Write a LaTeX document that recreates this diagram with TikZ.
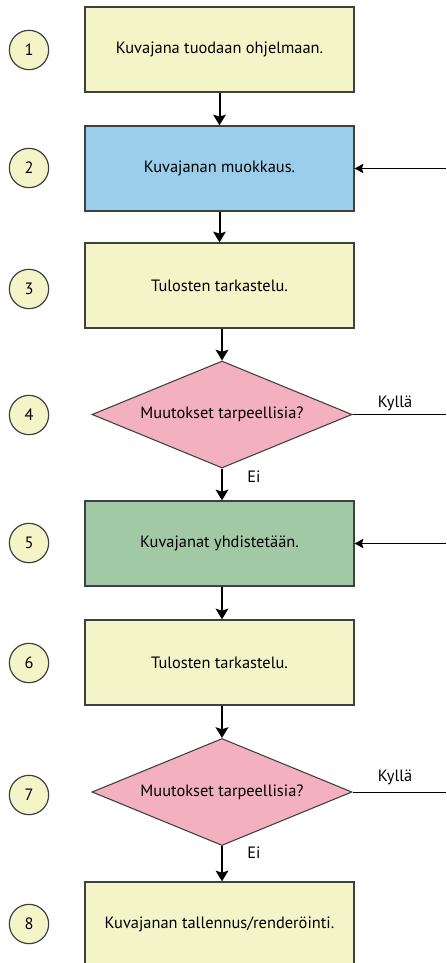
\documentclass[tikz,border=0pt]{standalone}
\usepackage{fontspec}
\setmainfont{PT Sans}
\usetikzlibrary{positioning,shapes.geometric,arrows.meta}

\definecolor{boxline}{RGB}{64,64,64}
\definecolor{stepyellow}{RGB}{243,245,200}
\definecolor{editblue}{RGB}{155,206,234}
\definecolor{choicepink}{RGB}{243,176,190}
\definecolor{mergegreen}{RGB}{161,201,166}

\tikzset{
  stepbox/.style={draw=boxline, line width=1pt, minimum width=201.75pt,
    minimum height=63.75pt, inner sep=0pt},
  choice/.style={diamond, aspect=2.43, draw=boxline, line width=0.8pt, fill=choicepink,
    minimum width=195pt, minimum height=80.25pt, inner sep=0pt},
  stepnum/.style={circle, draw=boxline, line width=0.9pt, fill=stepyellow,
    minimum size=29.5pt, inner sep=0pt},
  flow/.style={line width=1.5pt, -{Stealth[length=8pt,width=9.5pt,inset=1.5pt]}},
  loopback/.style={line width=0.75pt, -{Stealth[length=6.5pt,width=7pt,inset=1pt]}},
}

\begin{document}
\begin{tikzpicture}[x=0.75pt,y=-0.75pt,font=\fontsize{12.3}{14}\selectfont]
\useasboundingbox (0,0) rectangle (446,963);
\clip (0,0) rectangle (446,963);

% steps
\node[stepbox, fill=stepyellow] (s1) at (219.5,49.5) {Kuvajana tuodaan ohjelmaan.};
\node[stepbox, fill=editblue] (s2) at (219.5,168.5) {Kuvajanan muokkaus.};
\node[stepbox, fill=stepyellow] (s3) at (219.5,285.5) {Tulosten tarkastelu.};
\node[choice] (q4) at (222,414.5) {Muutokset tarpeellisia?};
\node[stepbox, fill=mergegreen] (s5) at (219.5,543.5) {Kuvajanat yhdistetään.};
\node[stepbox, fill=stepyellow] (s6) at (219.5,662.5) {Tulosten tarkastelu.};
\node[choice] (q7) at (222,792) {Muutokset tarpeellisia?};
\node[stepbox, fill=stepyellow] (s8) at (219.5,924.5) {Kuvajanan tallennus/renderöinti.};

% numbers
\node[stepnum] (n1) at (29,50) {1};
\node[stepnum] (n2) at (29,168) {2};
\node[stepnum] (n3) at (29,289) {3};
\node[stepnum] (n4) at (29,415) {4};
\node[stepnum] (n5) at (29,543) {5};
\node[stepnum] (n6) at (29,663) {6};
\node[stepnum] (n7) at (29,795) {7};
\node[stepnum] (n8) at (29,924) {8};

% main flow
\draw[flow] (s1) -- (s2);
\draw[flow] (s2) -- (s3);
\draw[flow] (q4.north |- s3.south) -- (q4.north);
\draw[flow] (q4.south) -- (q4.south |- s5.north);
\draw[flow] (q4.south |- s5.south) -- (q4.south |- s6.north);
\draw[flow] (q7.north |- s6.south) -- (q7.north);
\draw[flow] (q7.south) -- (q7.south |- s8.north);
\node (ei4) at (254,477) {Ei};
\node (ei7) at (254,853) {Ei};

% yes branches, loop back from the right
\coordinate (k4) at (446,414.5);
\coordinate (k7) at (446,792);
\draw[line width=0.75pt] (q4.east) -- (k4);
\draw[line width=0.75pt] (q7.east) -- (k7);
\node (yes4) at (395,403) {Kyllä};
\node (yes7) at (395,777) {Kyllä};

\coordinate (r2) at (446,168.5);
\coordinate (r5) at (446,543.5);
\draw[loopback] (r2) -- (s2.east);
\draw[loopback] (r5) -- (s5.east);
\end{tikzpicture}
\end{document}
